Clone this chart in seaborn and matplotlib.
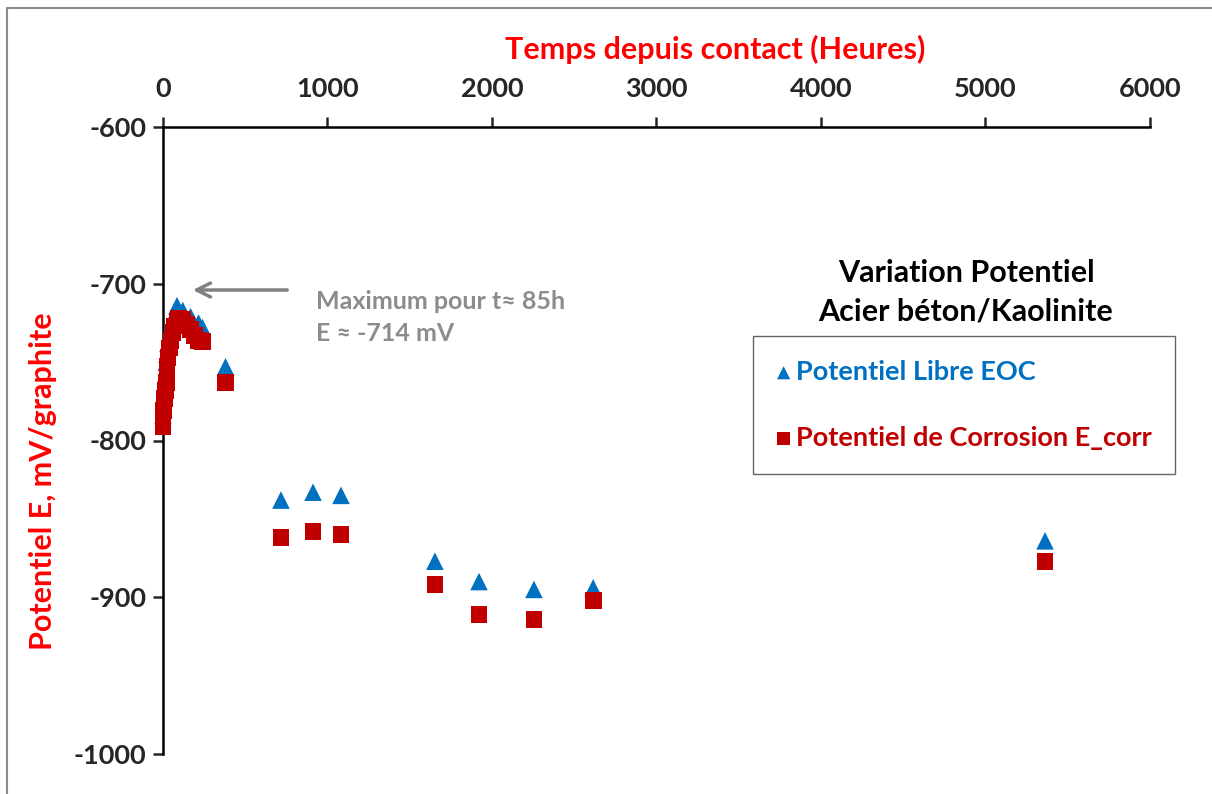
import matplotlib
matplotlib.use("Agg")
import matplotlib.pyplot as plt
import seaborn as sns
import pandas as pd
from matplotlib.patches import Rectangle

# Potentiel libre EOC (heures, mV/graphite)
t_eoc = [0, 4, 8, 14, 20, 24, 30, 48, 72, 85, 120, 168, 216, 240, 380,
         717, 912, 1082, 1653, 1921, 2255, 2615, 5362]
e_eoc = [-784, -776, -768, -758, -750, -745, -738, -728, -719, -714, -717,
         -721, -725, -728, -753, -838, -833, -835, -877, -890, -895, -894, -864]

# Potentiel de corrosion E_corr
t_corr = [0, 3, 6, 10, 15, 20, 24, 30, 40, 48, 60, 72, 85, 96, 120, 144, 168,
          192, 216, 240, 380, 717, 912, 1082, 1653, 1921, 2255, 2615, 5362]
e_corr = [-791, -781, -777, -773, -768, -763, -753, -747, -741, -736, -731,
          -727, -724, -722, -723, -726, -729, -733, -736, -737, -763, -862,
          -858, -860, -892, -911, -914, -902, -877]

x_ticks = [0, 1000, 2000, 3000, 4000, 5000, 6000]
y_ticks = [-1000, -900, -800, -700, -600]

blue = "#0070C0"
red = "#C00000"

sns.set_style("white")
plt.rcParams['font.family'] = ['Lato', 'DejaVu Sans']
plt.rcParams['font.weight'] = 'bold'
plt.rcParams['axes.unicode_minus'] = False

df_eoc = pd.DataFrame({"t": t_eoc, "E": e_eoc})
df_corr = pd.DataFrame({"t": t_corr, "E": e_corr})

fig = plt.figure(figsize=(12.12, 7.94), dpi=100)
ax = fig.add_axes([163 / 1212, 1 - 754 / 794, (1150 - 163) / 1212, (754 - 127) / 794])

sns.scatterplot(data=df_eoc, x="t", y="E", marker="^", s=160, color=blue,
                edgecolor="none", ax=ax, clip_on=False, zorder=3,
                label="Potentiel Libre EOC")
sns.scatterplot(data=df_corr, x="t", y="E", marker="s", s=145, color=red,
                edgecolor="none", ax=ax, clip_on=False, zorder=4,
                label="Potentiel de Corrosion E_corr")

ax.set_xlim(0, 6000)
ax.set_ylim(-1000, -600)
ax.set_xticks(x_ticks)
ax.set_yticks(y_ticks)
ax.xaxis.tick_top()
ax.xaxis.set_label_position('top')
for s in ["right", "bottom"]:
    ax.spines[s].set_visible(False)
for s in ["left", "top"]:
    ax.spines[s].set_linewidth(1.8)
    ax.spines[s].set_color("black")
ax.tick_params(axis="x", direction="out", length=7, width=1.8, pad=12,
               labelsize=19.5, top=True, bottom=False)
ax.tick_params(axis="y", direction="out", length=7, width=1.8, pad=5,
               labelsize=19.5, left=True)
for lab in ax.get_xticklabels() + ax.get_yticklabels():
    lab.set_fontweight("bold")

ax.set_xlabel("Temps depuis contact (Heures)", color="#FF0000", fontsize=22,
              fontweight="bold", labelpad=13, x=0.559)
ax.set_ylabel("Potentiel E, mV/graphite", color="#FF0000", fontsize=22,
              fontweight="bold", labelpad=12, y=0.435)

# annotation du maximum
ax.annotate("", xy=(164, -704), xytext=(772, -704),
            arrowprops=dict(arrowstyle="->", color="#808080", lw=2.5,
                            mutation_scale=25))
ax.text(930, -711.5, "Maximum pour t\u2248 85h", color="#8C8C8C", fontsize=18,
        fontweight="bold", va="center", ha="left")
ax.text(930, -732, "E \u2248 -714 mV", color="#8C8C8C", fontsize=18,
        fontweight="bold", va="center", ha="left")

# legende
fig.text(966 / 1212, 1 - 292 / 794, "Variation Potentiel\nAcier b\u00e9ton/Kaolinite",
         ha="center", va="center", fontsize=22, fontweight="bold",
         linespacing=1.45, color="black")
leg = ax.legend(loc="upper left", bbox_to_anchor=(753 / 1212, 1 - 336 / 794),
                bbox_transform=fig.transFigure, fontsize=19.5, frameon=True,
                fancybox=False, edgecolor="#404040", borderpad=0.88,
                labelspacing=1.55, handletextpad=0.2, handlelength=0.5,
                borderaxespad=0, markerscale=0.75)
leg.get_frame().set_linewidth(1.0)
for txt, col in zip(leg.get_texts(), [blue, red]):
    txt.set_color(col)
    txt.set_fontweight("bold")

# cadre du graphique
fig.patches.append(Rectangle((7 / 1212, -0.5), 2.0, 0.5 + 1 - 8 / 794,
                             transform=fig.transFigure, fill=False,
                             edgecolor="#8C8C8C", linewidth=1.5, zorder=0))

plt.savefig("out.png", dpi=100)
